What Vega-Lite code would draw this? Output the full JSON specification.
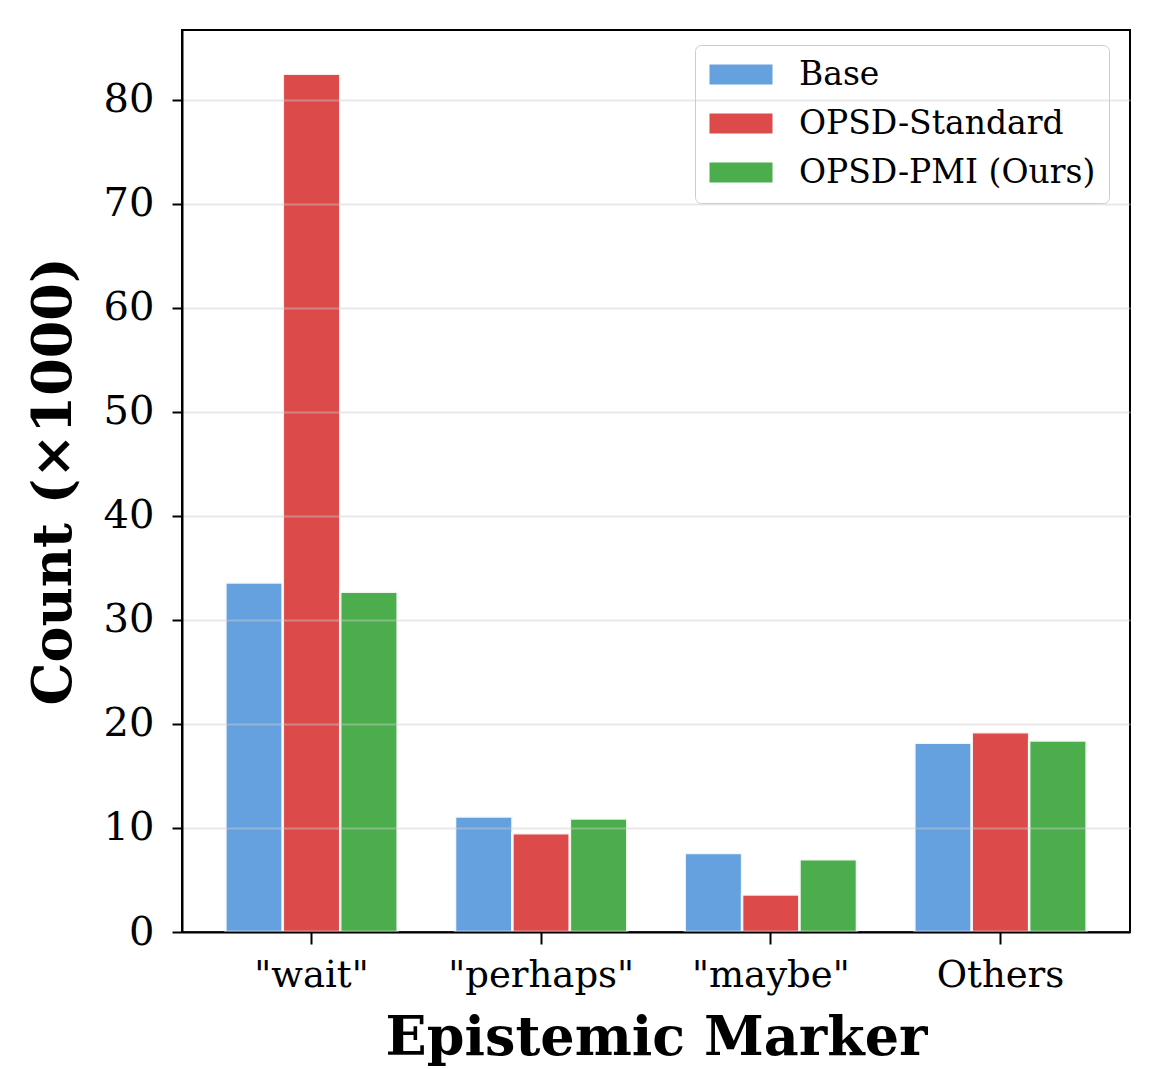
{
  "$schema": "https://vega.github.io/schema/vega-lite/v6.json",
  "width": 948,
  "height": 902,
  "autosize": "none",
  "padding": {"left": 182, "top": 30, "right": 30, "bottom": 137},
  "background": "white",
  "config": {
    "font": "DejaVu Serif",
    "view": {"stroke": "black", "strokeWidth": 2},
    "axis": {"domainColor": "black", "domainWidth": 2, "tickColor": "black", "tickWidth": 2, "labelColor": "black", "titleColor": "black"},
    "legend": {"strokeColor": "#cccccc"}
  },
  "data": {
    "values": [
      {"marker": "\"wait\"", "series": "Base", "count": 33.6},
      {"marker": "\"wait\"", "series": "OPSD-Standard", "count": 82.5},
      {"marker": "\"wait\"", "series": "OPSD-PMI (Ours)", "count": 32.7},
      {"marker": "\"perhaps\"", "series": "Base", "count": 11.1},
      {"marker": "\"perhaps\"", "series": "OPSD-Standard", "count": 9.5},
      {"marker": "\"perhaps\"", "series": "OPSD-PMI (Ours)", "count": 10.9},
      {"marker": "\"maybe\"", "series": "Base", "count": 7.6},
      {"marker": "\"maybe\"", "series": "OPSD-Standard", "count": 3.6},
      {"marker": "\"maybe\"", "series": "OPSD-PMI (Ours)", "count": 7.0},
      {"marker": "Others", "series": "Base", "count": 18.2},
      {"marker": "Others", "series": "OPSD-Standard", "count": 19.2},
      {"marker": "Others", "series": "OPSD-PMI (Ours)", "count": 18.4}
    ]
  },
  "mark": {"type": "bar", "stroke": "white", "strokeWidth": 2.5, "strokeOpacity": 0.9},
  "encoding": {
    "x": {
      "field": "marker",
      "type": "nominal",
      "sort": ["\"wait\"", "\"perhaps\"", "\"maybe\"", "Others"],
      "scale": {"paddingInner": 0.25, "paddingOuter": 0.189},
      "axis": {
        "title": "Epistemic Marker",
        "titleFontSize": 54,
        "titleFontWeight": "bold",
        "titlePadding": 18,
        "labelAngle": 0,
        "labelFontSize": 37,
        "labelPadding": 13,
        "labelLimit": 400,
        "tickSize": 12,
        "grid": false,
        "zindex": 2
      }
    },
    "xOffset": {
      "field": "series",
      "type": "nominal",
      "sort": ["Base", "OPSD-Standard", "OPSD-PMI (Ours)"],
      "scale": {"paddingInner": 0, "paddingOuter": 0}
    },
    "y": {
      "field": "count",
      "type": "quantitative",
      "scale": {"domain": [0, 86.7], "nice": false},
      "axis": {
        "title": "Count (×1000)",
        "titleFontSize": 54,
        "titleFontWeight": "bold",
        "titlePadding": 22,
        "values": [0, 10, 20, 30, 40, 50, 60, 70, 80],
        "labelFontSize": 40,
        "labelPadding": 18,
        "tickSize": 10,
        "grid": true,
        "gridColor": "#cccccc",
        "gridOpacity": 0.45,
        "gridWidth": 2,
        "zindex": 1
      }
    },
    "color": {
      "field": "series",
      "type": "nominal",
      "sort": ["Base", "OPSD-Standard", "OPSD-PMI (Ours)"],
      "scale": {"domain": ["Base", "OPSD-Standard", "OPSD-PMI (Ours)"], "range": ["#64a1de", "#dc4a4a", "#4cad4c"]},
      "legend": {
        "title": null,
        "orient": "none",
        "legendX": 513,
        "legendY": 15,
        "symbolType": "M-1.5,-1H4.8V1H-1.5Z",
        "symbolSize": 400,
        "symbolStrokeWidth": 0,
        "symbolOpacity": 1,
        "labelFontSize": 33,
        "labelOffset": 58,
        "rowPadding": 15,
        "padding": 13,
        "fillColor": "white",
        "strokeColor": "#cccccc",
        "cornerRadius": 6,
        "labelLimit": 400
      }
    }
  }
}
